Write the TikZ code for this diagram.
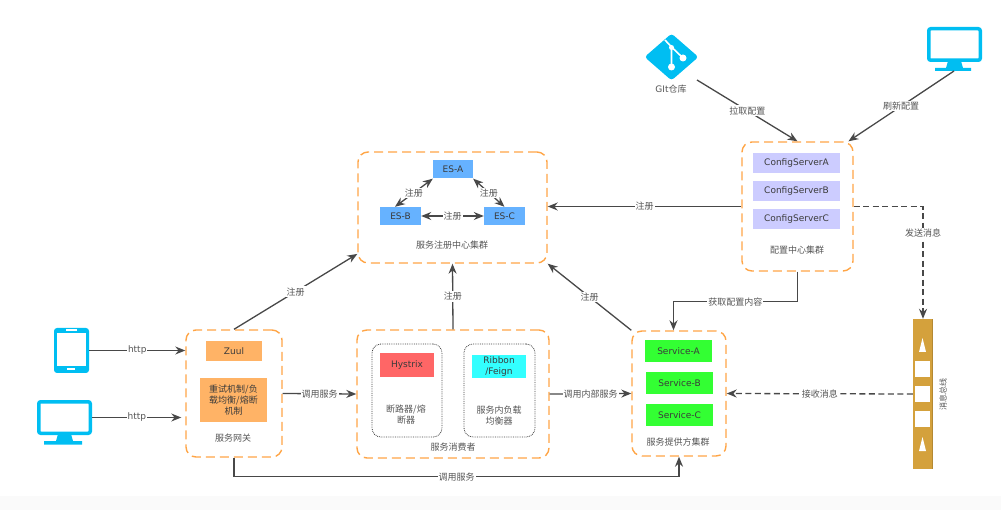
\documentclass[tikz,border=0pt]{standalone}
\usepackage{fontspec}
\setmainfont{DejaVu Sans}
\newfontfamily\cjk{Noto Sans CJK SC}
\usetikzlibrary{arrows.meta,positioning,shapes.geometric}

\definecolor{iconblue}{HTML}{00BEF2}
\definecolor{clusterorange}{HTML}{FFA546}
\definecolor{linegray}{HTML}{484848}
\definecolor{textgray}{HTML}{555555}
\definecolor{esblue}{HTML}{66B2FF}
\definecolor{configviolet}{HTML}{CCCCFF}
\definecolor{zuulorange}{HTML}{FFB366}
\definecolor{servicegreen}{HTML}{33FF33}
\definecolor{busgold}{HTML}{D4A13C}
\definecolor{hystrixred}{HTML}{FF6666}
\definecolor{ribboncyan}{HTML}{33FFFF}

\tikzset{
 cluster/.style={draw=clusterorange,line width=1.4pt,dash pattern=on 9pt off 5pt,rounded corners=10pt,inner sep=0pt},
 inner cluster/.style={draw=black!75,line width=0.8pt,densely dotted,rounded corners=9pt,inner sep=0pt},
 box/.style={inner sep=0pt,align=center,font=\fontsize{9}{11}\selectfont,text=textgray!70!black},
 caption/.style={align=center,font=\fontsize{9}{11}\selectfont\cjk,text=textgray,inner sep=0pt},
 link/.style={draw=linegray,line width=1.3pt,-{Stealth[length=10pt,width=8pt]}},
 both link/.style={draw=linegray,line width=1.3pt,{Stealth[length=10pt,width=8pt]}-{Stealth[length=10pt,width=8pt]}},
 dashed link/.style={link,dash pattern=on 6pt off 3.5pt},
 tag/.style={fill=white,inner sep=1pt,font=\fontsize{9}{10}\selectfont\cjk,text=textgray},
 iconscreen/.style={draw=iconblue,fill=white,line width=3.5pt,rounded corners=2pt,inner sep=0pt},
}

\begin{document}
\begin{tikzpicture}[x=1pt,y=-1pt]

\useasboundingbox (0,0) rectangle (1001,510);
\fill[black!2] (0,496) rectangle (1001,510);

%Clusters
\node (escluster) [cluster,minimum width=189,minimum height=111] at (452.5,207.5) {};
\node (configcluster) [cluster,minimum width=111,minimum height=129] at (797.5,206.5) {};
\node (gateway) [cluster,minimum width=96,minimum height=127] at (234,393.5) {};
\node (consumer) [cluster,minimum width=192,minimum height=128] at (453,394) {};
\node (provider) [cluster,minimum width=94,minimum height=125] at (679,393.5) {};

%Register center
\node (esa) [box,fill=esblue,minimum width=40,minimum height=18] at (453,169.5) {ES-A};
\node (esb) [box,fill=esblue,minimum width=41,minimum height=18] at (400.5,216) {ES-B};
\node (esc) [box,fill=esblue,minimum width=41,minimum height=18] at (504.5,216) {ES-C};
\node (eslabel) [caption] at (452,245) {服务注册中心集群};

%Config center
\foreach \name/\y/\txt in {configa/163/ConfigServerA,configb/191.5/ConfigServerB,configc/219.5/ConfigServerC}
\node (\name) [box,fill=configviolet,minimum width=87,minimum height=20] at (796.5,\y) {\txt};
\node (configlabel) [caption] at (797,250) {配置中心集群};

%Gateway
\node (zuul) [box,fill=zuulorange,minimum width=56,minimum height=20] at (234,351) {Zuul};
\node (retry) [box,fill=zuulorange,minimum width=67,minimum height=44,font=\fontsize{9}{11}\selectfont\cjk] at (233.5,400) {重试机制/负\\载均衡/熔断\\机制};
\node (gatewaylabel) [caption] at (233,438) {服务网关};

%Consumer
\node (hystrixarea) [inner cluster,minimum width=70,minimum height=93] at (407,390.5) {};
\node (ribbonarea) [inner cluster,minimum width=71,minimum height=93] at (499.5,390.5) {};
\node (hystrix) [box,fill=hystrixred,minimum width=54,minimum height=24] at (407,365) {Hystrix};
\node (ribbon) [box,fill=ribboncyan,minimum width=54,minimum height=23] at (499,366.5) {Ribbon\\/Feign};
\node (hystrixlabel) [caption] at (406,415) {断路器/熔\\断器};
\node (ribbonlabel) [caption] at (499,416) {服务内负载\\均衡器};
\node (consumerlabel) [caption] at (453,447) {服务消费者};

%Provider
\foreach \name/\xc/\y/\txt in {servicea/678.5/351/Service-A,serviceb/679.5/383/Service-B,servicec/679.5/415/Service-C}
\node (\name) [box,fill=servicegreen,minimum width=67,minimum height=22] at (\xc,\y) {\txt};
\node (providerlabel) [caption] at (678,442) {服务提供方集群};

%Message bus
\node (bus) [fill=busgold,minimum width=20,minimum height=150,inner sep=0pt] at (923,394) {};
\fill[busgold!85!black] (931.5,319) rectangle (933,469);
\foreach \y in {369,394,419}
\fill[white] (915,\y-8) rectangle (930,\y+8);
\fill[white] (922.5,338) -- (926,352) -- (919,352) -- cycle;
\fill[white] (922.5,437) -- (926,451) -- (919,451) -- cycle;
\node (buslabel) [caption,rotate=90,font=\fontsize{8}{10}\selectfont\cjk] at (943,394) {消息总线};

%Tablet
\node (tablet) [fill=iconblue,rounded corners=3pt,minimum width=35,minimum height=45,inner sep=0pt] at (71.5,350.5) {};
\fill[white] (57,333) rectangle (86,366);
\fill[white] (66,329.5) rectangle (77,331);
\fill[white] (67,368.5) rectangle (75,370);

%Desktop screens
\node (desktop) [iconscreen,minimum width=51.5,minimum height=31.5] at (64.5,417.5) {};
\fill[iconblue] (58,434) -- (71,434) -- (73,441) -- (82,441) -- (82,444.5) -- (44,444.5) -- (44,441) -- (56,441) -- cycle;
\node (admin) [iconscreen,minimum width=51.5,minimum height=31.5] at (954.5,44.5) {};
\fill[iconblue] (948,61) -- (961,61) -- (963,68) -- (971,68) -- (971,71) -- (935,71) -- (935,68) -- (946,68) -- cycle;
\coordinate (adminout) at (954,71);

%Git
\node (gitrepo) [diamond,fill=iconblue,rounded corners=3pt,minimum width=54,minimum height=47,inner sep=0pt] at (671.5,57) {};
\draw[white,line width=1.6pt] (665,40) -- (671.5,47) -- (671.5,66);
\draw[white,line width=1.6pt] (671.5,47) -- (683,58);
\fill[white] (671.5,67) circle (3.5);
\fill[white] (683,58) circle (3.5);
\fill[white] (671.5,47.5) circle (2.5);
\node (gitlabel) [caption] at (671,89) {{\rmfamily GIt}仓库};
\coordinate (gitout) at (697,80);

%Client links
\draw [link] (tablet.east) -- node[tag,font=\fontsize{9}{10}\selectfont]{http} (tablet.east -| gateway.west);
\draw [link,shorten >=4pt] (desktop.east) -- node[tag,font=\fontsize{9}{10}\selectfont,pos=0.48]{http} (desktop.east -| gateway.west);

%Register links
\draw [link] (gateway.north) -- node[tag]{注册} (escluster.206);
\draw [link] (consumer.north) -- node[tag]{注册} (escluster.south);
\draw [link] (provider.north west) -- node[tag]{注册} (escluster.south east);
\draw [link] (configcluster.west) -- node[tag]{注册} (configcluster.west -| escluster.east);

%Inside register center
\draw [both link] (esa.south west) -- node[tag]{注册} (esb.121);
\draw [both link] (esa.south east) -- node[tag]{注册} (esc.north);
\draw [both link] (esb.east) -- node[tag]{注册} (esc.west);

%Service calls
\draw [link] (gateway.east) -- node[tag]{调用服务} (consumer.west);
\draw [link] (consumer.east) -- node[tag]{调用内部服务} (provider.west);
\draw [link] (gateway.south) -- ++(0,19) -| node[tag,pos=0.25]{调用服务} (provider.south);

%Config links
\draw [link] (gitout) -- node[tag]{拉取配置} (configcluster.north);
\draw [link] (adminout) -- node[tag]{刷新配置} (configcluster.52.5);
\draw [link] (configcluster.south) -- ++(0,30) -| node[tag,pos=0.25]{获取配置内容} (provider.95.5);

%Bus links
\draw [dashed link] (configcluster.east) -| node[tag,pos=0.62]{发送消息} (bus.north);
\draw [dashed link] (bus.west) -- node[tag]{接收消息} (provider.east);

\end{tikzpicture}
\end{document}
